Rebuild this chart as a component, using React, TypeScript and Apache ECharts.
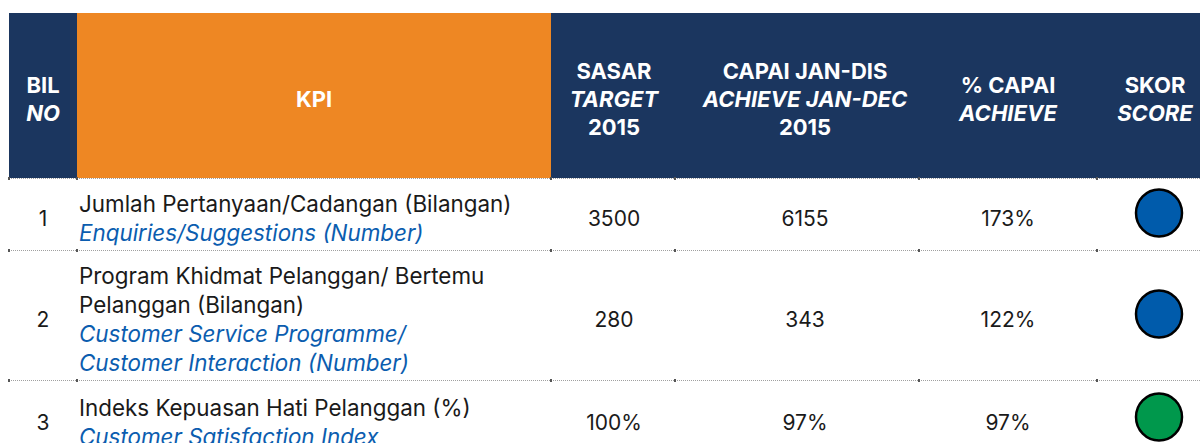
import React, { useEffect, useRef } from "react";
import * as echarts from "echarts";

// ---- data ----
const headerLabels: { text: string; italic: boolean }[][] = [
  [{ text: "BIL", italic: false }, { text: "NO", italic: true }],
  [{ text: "KPI", italic: false }],
  [{ text: "SASAR", italic: false }, { text: "TARGET", italic: true }, { text: "2015", italic: false }],
  [{ text: "CAPAI JAN-DIS", italic: false }, { text: "ACHIEVE JAN-DEC", italic: true }, { text: "2015", italic: false }],
  [{ text: "% CAPAI", italic: false }, { text: "ACHIEVE", italic: true }],
  [{ text: "SKOR", italic: false }, { text: "SCORE", italic: true }],
];
const rowNo = ["1", "2", "3"];
const kpiMalay = [
  ["Jumlah Pertanyaan/Cadangan (Bilangan)"],
  ["Program Khidmat Pelanggan/ Bertemu", "Pelanggan (Bilangan)"],
  ["Indeks Kepuasan Hati Pelanggan (%)"],
];
const kpiEnglish = [
  ["Enquiries/Suggestions (Number)"],
  ["Customer Service Programme/", "Customer Interaction (Number)"],
  ["Customer Satisfaction Index"],
];
const targets = ["3500", "280", "100%"];
const achieved = ["6155", "343", "97%"];
const pctAchieved = ["173%", "122%", "97%"];
const scores = ["blue", "blue", "green"];

// ---- layout / style ----
const NAVY = "#1B365F";
const ORANGE = "#EE8723";
const BLUE_TEXT = "#0B5DAF";
const SCORE_COLORS: Record<string, string> = { blue: "#005BAB", green: "#00984C" };
const FONT = "Inter, 'Noto Sans', sans-serif";
const colCenters = [43, 314, 614, 805, 1008, 1155];
const colBounds = [9, 77, 551, 675, 919, 1097];
const headerTop = 13;
const headerBottom = 178;
const tableLeft = 9;
const kpiLeft = 77;
const kpiRight = 551;
const kpiTextX = 79;
const rowTops = [178, 250, 380];
const rowHeights = [72, 130, 76];
const lineH = 29;
const headLineH = 28;

function buildGraphics() {
  const els: any[] = [];
  els.push({ type: "rect", shape: { x: tableLeft, y: headerTop, width: 1200 - tableLeft, height: headerBottom - headerTop }, style: { fill: NAVY } });
  els.push({ type: "rect", shape: { x: kpiLeft, y: headerTop, width: kpiRight - kpiLeft, height: headerBottom - headerTop }, style: { fill: ORANGE } });
  headerLabels.forEach((lines, ci) => {
    const n = lines.length;
    const cy = 99;
    lines.forEach((ln, li) => {
      els.push({
        type: "text",
        x: colCenters[ci],
        y: cy + (li - (n - 1) / 2) * headLineH,
        style: {
          text: ln.text, fill: "#FFFFFF", fontFamily: FONT, fontSize: 22, fontWeight: "bold",
          fontStyle: ln.italic ? "italic" : "normal", align: "center", verticalAlign: "middle",
        },
      });
    });
  });
  const lineYs = [headerBottom, rowTops[1], rowTops[2]];
  lineYs.forEach((y) => {
    els.push({ type: "line", shape: { x1: tableLeft, y1: y + 0.5, x2: 1200, y2: y + 0.5 }, style: { stroke: "#A0A0A0", lineWidth: 1, lineDash: [1, 1] } });
    colBounds.forEach((bx) => {
      els.push({ type: "rect", shape: { x: bx - 1, y: y - 1, width: 2, height: 3 }, style: { fill: "#555555" } });
    });
  });
  rowNo.forEach((no, ri) => {
    const cy = rowTops[ri] + rowHeights[ri] / 2 + 4;
    const textStyle = (t: string) => ({ text: t, fill: "#1A1A1A", fontFamily: FONT, fontSize: 21, align: "center", verticalAlign: "middle" });
    els.push({ type: "text", x: colCenters[0], y: cy, style: textStyle(no) });
    const lines = [
      ...kpiMalay[ri].map((t) => ({ t, en: false })),
      ...kpiEnglish[ri].map((t) => ({ t, en: true })),
    ];
    lines.forEach((ln, li) => {
      els.push({
        type: "text", x: kpiTextX, y: cy + (li - (lines.length - 1) / 2) * lineH,
        style: {
          text: ln.t, fill: ln.en ? BLUE_TEXT : "#1A1A1A", fontFamily: FONT, fontSize: 22.4,
          fontStyle: ln.en ? "italic" : "normal", align: "left", verticalAlign: "middle",
        },
      });
    });
    els.push({ type: "text", x: colCenters[2], y: cy, style: textStyle(targets[ri]) });
    els.push({ type: "text", x: colCenters[3], y: cy, style: textStyle(achieved[ri]) });
    els.push({ type: "text", x: colCenters[4], y: cy, style: textStyle(pctAchieved[ri]) });
    els.push({
      type: "ellipse", shape: { cx: colCenters[5] + 4, cy: cy - 5, rx: 23, ry: 23.5 },
      style: { fill: SCORE_COLORS[scores[ri]], stroke: "#000000", lineWidth: 2.5 },
    });
  });
  return els;
}

export default function App() {
  const ref = useRef<HTMLDivElement>(null);
  useEffect(() => {
    if (!ref.current) return;
    const chart = echarts.init(ref.current, undefined, { renderer: "svg" });
    chart.setOption({
      animation: false,
      backgroundColor: "#FFFFFF",
      graphic: { elements: buildGraphics() },
    });
    return () => chart.dispose();
  }, []);
  return <div ref={ref} style={{ position: "fixed", left: 0, top: 0, width: 1200, height: 443 }} />;
}
